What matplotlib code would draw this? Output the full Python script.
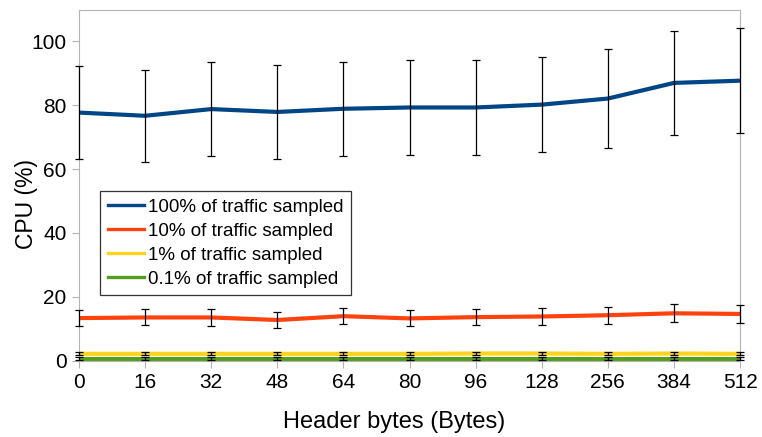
import matplotlib
matplotlib.use("Agg")
import matplotlib.pyplot as plt
import numpy as np

plt.rcParams['font.family'] = ['Liberation Sans', 'DejaVu Sans']

categories = ["0", "16", "32", "48", "64", "80", "96", "128", "256", "384", "512"]
labels = ["100% of traffic sampled", "10% of traffic sampled",
          "1% of traffic sampled", "0.1% of traffic sampled"]
cpu_100 = [77.7, 76.7, 78.8, 77.9, 78.9, 79.3, 79.3, 80.2, 82.1, 87.0, 87.7]
err_100 = [14.5, 14.4, 14.7, 14.6, 14.7, 14.9, 14.9, 15.0, 15.4, 16.3, 16.4]
cpu_10 = [13.3, 13.5, 13.5, 12.7, 13.9, 13.2, 13.6, 13.8, 14.2, 14.8, 14.6]
err_10 = [2.5, 2.5, 2.6, 2.4, 2.5, 2.5, 2.6, 2.6, 2.6, 2.8, 2.7]
cpu_1 = [2.1, 2.1, 2.1, 2.1, 2.1, 2.1, 2.2, 2.2, 2.1, 2.2, 2.1]
err_1 = [0.5, 0.5, 0.5, 0.5, 0.5, 0.5, 0.6, 0.6, 0.5, 0.6, 0.5]
cpu_01 = [0.6, 0.6, 0.6, 0.6, 0.6, 0.6, 0.6, 0.6, 0.6, 0.6, 0.6]
err_01 = [0.4, 0.4, 0.4, 0.4, 0.4, 0.4, 0.4, 0.4, 0.4, 0.4, 0.4]

colors = ["#004586", "#ff420e", "#ffd320", "#579d1c"]
series = [cpu_100, cpu_10, cpu_1, cpu_01]
errors = [err_100, err_10, err_1, err_01]

fig = plt.figure(figsize=(7.62, 4.37), dpi=100)
ax = fig.add_axes([0.1037, 0.175, 0.8675, 0.8032])
x = np.arange(len(categories))
handles = []
for vals, c, lab in zip(series, colors, labels):
    h, = ax.plot(x, vals, color=c, lw=3, label=lab, zorder=2)
    handles.append(h)
for vals, errs in zip(series, errors):
    ax.errorbar(x, vals, yerr=errs, fmt='none', ecolor='black', elinewidth=0.9,
                capsize=2.6, capthick=0.9, zorder=3, clip_on=False)

ax.set_xlim(0, len(categories) - 1)
ax.set_ylim(0, 110)
ax.set_xticks(x)
ax.set_xticklabels(categories)
ax.set_yticks([0, 20, 40, 60, 80, 100])
ax.tick_params(axis='both', labelsize=15, color='#b3b3b3', length=5, direction='out')
ax.tick_params(axis='x', pad=4)
ax.tick_params(axis='y', pad=4)
for s in ax.spines.values():
    s.set_color('#b3b3b3')
ax.set_xlabel("Header bytes (Bytes)", fontsize=17, va='center')
ax.xaxis.set_label_coords(0.477, -0.175)
ax.set_ylabel("CPU (%)", fontsize=16.5, va='center')
ax.yaxis.set_label_coords(-0.0787, 0.446)

leg = ax.legend(handles=handles, loc='upper left', bbox_to_anchor=(0.0318, 0.483),
                fontsize=13.5, frameon=True, fancybox=False, edgecolor='black',
                handlelength=1.92, handletextpad=0.2, borderpad=0.42, labelspacing=0.36,
                borderaxespad=0)
leg.get_frame().set_linewidth(0.9)
for l in leg.get_lines():
    l.set_linewidth(2.4)

fig.savefig("out.png", dpi=100)
